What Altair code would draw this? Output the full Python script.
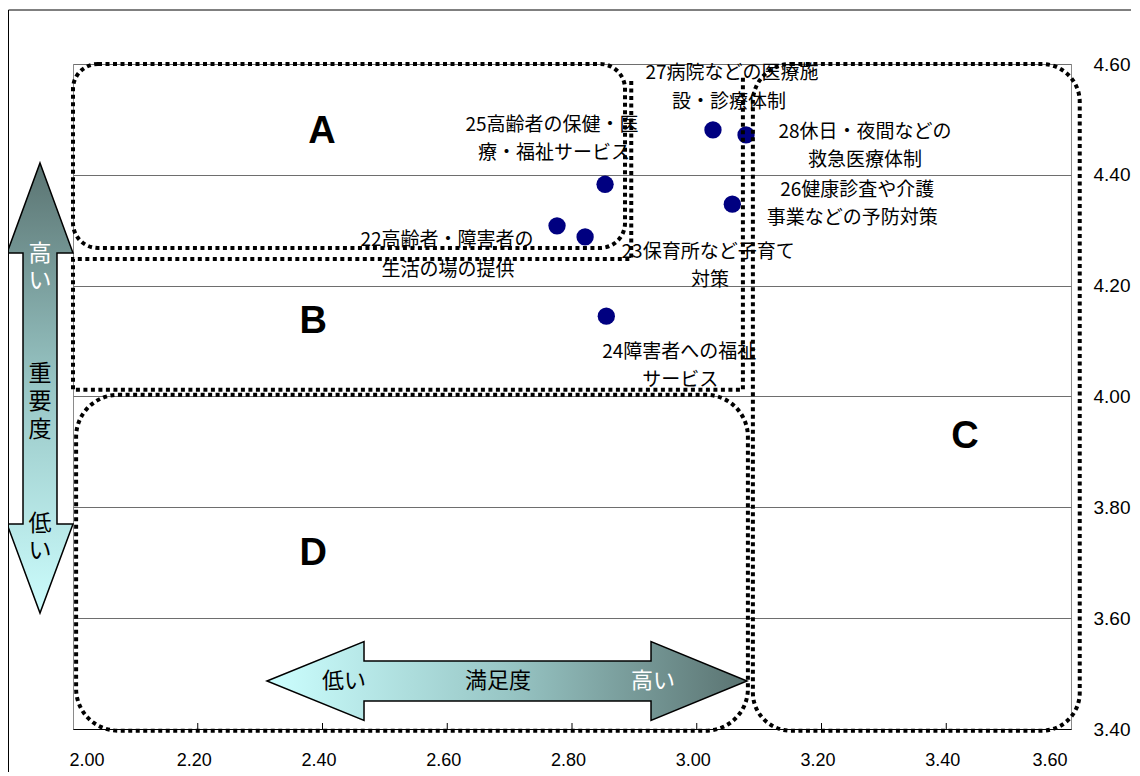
import altair as alt
import pandas as pd

# ---------------- data ----------------
item_ids = ["22", "23", "24", "25", "26", "27", "28"]
label_line1 = ["22高齢者・障害者の", "23保育所など子育て", "24障害者への福祉",
               "25高齢者の保健・医", "26健康診査や介護", "27病院などの医療施",
               "28休日・夜間などの"]
label_line2 = ["生活の場の提供", "対策", "サービス", "療・福祉サービス",
               "事業などの予防対策", "設・診療体制", "救急医療体制"]
satisfaction = [2.776, 2.821, 2.855, 2.853, 3.057, 3.026, 3.079]   # 満足度
importance = [4.308, 4.288, 4.145, 4.383, 4.347, 4.481, 4.472]     # 重要度

x_ticks = [2.0, 2.2, 2.4, 2.6, 2.8, 3.0, 3.2, 3.4, 3.6]
y_ticks = [3.4, 3.6, 3.8, 4.0, 4.2, 4.4, 4.6]

region_names = ["A", "B", "C", "D"]
region_label_x = [2.399, 2.385, 3.430, 2.385]
region_label_y = [4.477, 4.134, 3.927, 3.716]

# region boundaries (data units)
box_a = dict(x=2.0, x2=2.885, y=4.268, y2=4.60)
box_c = dict(x=3.090, x2=3.614, y=3.397, y2=4.60)
box_d = dict(x=2.005, x2=3.082, y=3.397, y2=4.003)
b_path_x = [3.074, 3.074, 2.0, 2.0, 2.895, 2.895]
b_path_y = [4.575, 4.012, 4.012, 4.248, 4.248, 4.575]

# ---------------- layout ----------------
W, H = 998, 665
PX_X = W / 1.6
PX_Y = H / 1.2
# label line offsets (px) from each point: (dx1, dy1, dx2, dy2)
label_offsets = [(-110, 14, -109, 44), (123, 15, 125, 43), (73, 36, 74, 64),
                 (-53, -59, -51, -31), (125, -14, 120, 14), (19, -57, 16, -28),
                 (119, -3, 119, 25)]

JP = "Noto Sans CJK JP"
LAT = "Liberation Sans"

xs = alt.Scale(domain=[2.0, 3.6], nice=False, zero=False)
ys = alt.Scale(domain=[3.4, 4.6], nice=False, zero=False)

x_axis = alt.Axis(values=x_ticks, format=".2f", title=None, ticks=False, grid=False,
                  labelFont=LAT, labelFontSize=18, labelColor="black",
                  labelPadding=22, labelOffset=-4, domainColor="black", domainWidth=1)
y_axis = alt.Axis(values=y_ticks, format=".2f", title=None, orient="right", ticks=False,
                  grid=True, gridColor="#6e6e6e", gridWidth=1, domain=False,
                  labelFont=LAT, labelFontSize=19, labelColor="black", labelPadding=22)


def X(f="x"):
    return alt.X(f, type="quantitative", scale=xs, axis=x_axis)


def Y(f="y"):
    return alt.Y(f, type="quantitative", scale=ys, axis=y_axis)


pts = pd.DataFrame({"id": item_ids, "x": satisfaction, "y": importance})

rows = []
for i in range(len(item_ids)):
    dx1, dy1, dx2, dy2 = label_offsets[i]
    rows.append({"x": satisfaction[i] + dx1 / PX_X, "y": importance[i] - dy1 / PX_Y, "t": label_line1[i]})
    rows.append({"x": satisfaction[i] + dx2 / PX_X, "y": importance[i] - dy2 / PX_Y, "t": label_line2[i]})
labels = pd.DataFrame(rows)

regions = pd.DataFrame({"name": region_names, "x": region_label_x, "y": region_label_y})
one = alt.Data(values=[{"a": 1}])

# frame lines of the whole picture
frame_top = alt.Chart(one).mark_rule(color="black", strokeWidth=1).encode(
    x=alt.value(-64.5), x2=alt.value(1058), y=alt.value(-54))
frame_left = alt.Chart(one).mark_rule(color="black", strokeWidth=1).encode(
    x=alt.value(-64.5), y=alt.value(-54), y2=alt.value(712))

# x tick marks pointing upward
xt = pd.DataFrame({"x": x_ticks[1:-1]})
tick_marks = alt.Chart(xt).mark_rule(color="black", strokeWidth=1).encode(
    x=X(), y=alt.value(H - 6), y2=alt.value(H))

label_layer = alt.Chart(labels).mark_text(font=JP, fontSize=19, color="black",
                                          align="center", baseline="middle").encode(
    x=X(), y=Y(), text="t:N")

points = alt.Chart(pts).mark_circle(size=300, color="#000080", opacity=1).encode(x=X(), y=Y())

region_text = alt.Chart(regions).mark_text(font=LAT, fontSize=38, fontWeight="bold",
                                           color="black", baseline="middle").encode(
    x=X(), y=Y(), text="name:N")

dot = dict(stroke="black", strokeWidth=4, strokeDash=[4, 3.5], fillOpacity=0)


def box(b, r):
    return alt.Chart(pd.DataFrame([b])).mark_rect(cornerRadius=r, **dot).encode(
        x=X("x"), x2="x2", y=Y("y"), y2="y2")


box_A = box(box_a, 25)
box_C = box(box_c, 38)
box_D = box(box_d, 42)
b_df = pd.DataFrame({"x": b_path_x, "y": b_path_y, "o": list(range(len(b_path_x)))})
box_B = alt.Chart(b_df).mark_line(color="black", strokeWidth=4, strokeDash=[4, 3.5]).encode(
    x=X(), y=Y(), order="o:Q")

# arrows
v_path = ("M 0 -6.818 L 1 -4.091 L 0.515 -4.091 L 0.515 4.121 L 1 4.121 L 0 6.818 "
          "L -1 4.121 L -0.515 4.121 L -0.515 -4.091 L -1 -4.091 Z")
h_path = ("M -6.076 0 L -3.62 -1 L -3.62 -0.506 L 3.646 -0.506 L 3.646 -1 L 6.076 0 "
          "L 3.646 1 L 3.646 0.506 L -3.62 0.506 L -3.62 1 Z")
grad_v = alt.Gradient(gradient="linear", x1=0, x2=0, y1=0, y2=1, stops=[
    alt.GradientStop(color="#5a7371", offset=0),
    alt.GradientStop(color="#98c6c5", offset=0.5),
    alt.GradientStop(color="#ccfdfd", offset=1)])
grad_h = alt.Gradient(gradient="linear", x1=0, x2=1, y1=0, y2=0, stops=[
    alt.GradientStop(color="#ccffff", offset=0),
    alt.GradientStop(color="#98c6c5", offset=0.5),
    alt.GradientStop(color="#5a7371", offset=1)])

v_arrow = alt.Chart(one).mark_point(shape=v_path, filled=True, fill=grad_v, stroke="black",
                                    strokeWidth=1.5, size=66 * 66, opacity=1).encode(
    x=alt.value(-33), y=alt.value(324))
h_arrow = alt.Chart(one).mark_point(shape=h_path, filled=True, fill=grad_h, stroke="black",
                                    strokeWidth=1.5, size=79 * 79, opacity=1).encode(
    x=alt.value(434), y=alt.value(617))


def note(t, x, y, color="black", size=23, baseline="middle", lh=27):
    return alt.Chart(one).mark_text(text=t, font=JP, fontSize=size, color=color,
                                    align="center", baseline=baseline, lineBreak="\n",
                                    lineHeight=lh).encode(x=alt.value(x), y=alt.value(y))


notes = [
    note("高\nい", -33, 179, color="white", baseline="top", lh=27),
    note("重\n要\n度", -33, 299, baseline="top", lh=28),
    note("低\nい", -33, 449, baseline="top", lh=27),
    note("低い", 271, 617, size=22),
    note("満足度", 425, 617, size=22),
    note("高い", 580, 617, color="white", size=22),
]

chart = alt.layer(
    points, label_layer, region_text, tick_marks, box_A, box_B, box_C, box_D,
    v_arrow, h_arrow, *notes, frame_top, frame_left,
).properties(
    width=W, height=H,
    autosize=alt.AutoSizeParams(type="none"),
    padding={"left": 65, "top": 56, "right": 60, "bottom": 43},
    background="white",
).configure_view(stroke="#8a8a8a", strokeWidth=1)

chart.save("out.html", embed_options={"renderer": "svg", "actions": False})
